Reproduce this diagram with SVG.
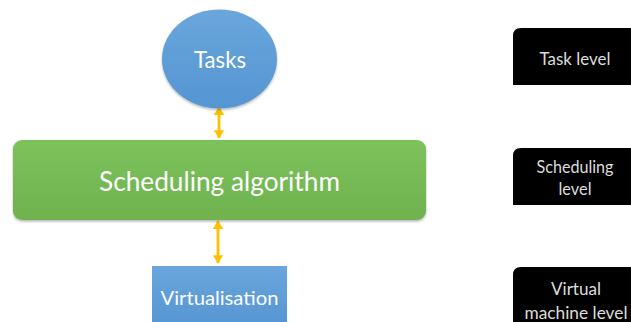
<svg xmlns="http://www.w3.org/2000/svg" width="631" height="322" viewBox="0 0 631 322">
  <style>
    .lbl { font-family: Lato, "Open Sans", "Liberation Sans", sans-serif; fill: #ffffff; text-anchor: middle; }
    .lvl { font-family: Lato, "Open Sans", "Liberation Sans", sans-serif; fill: #dcdcdc; text-anchor: middle; font-size: 16.5px; }
    .level-box { fill: #000000; }
    .link { stroke: #ffc000; stroke-width: 2.8; fill: none; marker-start: url(#head); marker-end: url(#head); }
  </style>
  <defs>
    <linearGradient id="blueFill" x1="0" y1="0" x2="0" y2="1">
      <stop offset="0" stop-color="#6aa6dc"/>
      <stop offset="1" stop-color="#5595d2"/>
    </linearGradient>
    <linearGradient id="greenFill" x1="0" y1="0" x2="0" y2="1">
      <stop offset="0" stop-color="#7cc25b"/>
      <stop offset="1" stop-color="#6fb24f"/>
    </linearGradient>
    <filter id="shade" x="-5%" y="-10%" width="110%" height="125%">
      <feDropShadow dx="0" dy="1.5" stdDeviation="1.2" flood-color="#000" flood-opacity="0.3"/>
    </filter>
    <marker id="head" viewBox="0 0 8 10" refX="7.5" refY="5" markerWidth="3" markerHeight="3.8" orient="auto-start-reverse" markerUnits="strokeWidth">
      <path d="M0,0 L8,5 L0,10 Z" fill="#ffc000"/>
    </marker>
  </defs>

  <rect width="631" height="322" fill="#ffffff"/>

  <!-- connectors -->
  <g id="connectors">
    <line class="link" x1="219" y1="107" x2="219" y2="138"/>
    <line class="link" x1="218" y1="221" x2="218" y2="263"/>
  </g>

  <!-- left column -->
  <g id="tasks">
    <ellipse cx="219.5" cy="59" rx="57.5" ry="49.5" fill="url(#blueFill)" filter="url(#shade)"/>
    <text class="lbl" x="220" y="68" font-size="23" textLength="52" lengthAdjust="spacingAndGlyphs">Tasks</text>
  </g>

  <g id="scheduling">
    <rect x="13" y="140" width="413" height="80" rx="9" fill="url(#greenFill)" filter="url(#shade)"/>
    <text class="lbl" x="219.5" y="191" font-size="26" textLength="241" lengthAdjust="spacingAndGlyphs">Scheduling algorithm</text>
  </g>

  <g id="virtualisation">
    <rect x="152" y="266" width="135" height="60" fill="url(#blueFill)"/>
    <text class="lbl" x="219.5" y="305" font-size="20" textLength="118" lengthAdjust="spacingAndGlyphs">Virtualisation</text>
  </g>

  <!-- level labels on the right -->
  <g id="task-level">
    <path class="level-box" d="M513,85 V36 Q513,28 521,28 H631 V85 Z"/>
    <text class="lvl" x="575" y="65" textLength="71" lengthAdjust="spacingAndGlyphs">Task level</text>
  </g>

  <g id="scheduling-level">
    <path class="level-box" d="M513,205 V156 Q513,148 521,148 H631 V205 Z"/>
    <text class="lvl" x="575" y="173" textLength="77" lengthAdjust="spacingAndGlyphs">Scheduling</text>
    <text class="lvl" x="575" y="195" textLength="33" lengthAdjust="spacingAndGlyphs">level</text>
  </g>

  <g id="vm-level">
    <path class="level-box" d="M513,326 V275 Q513,267 521,267 H631 V326 Z"/>
    <text class="lvl" x="576" y="295" textLength="50" lengthAdjust="spacingAndGlyphs">Virtual</text>
    <text class="lvl" x="576" y="319" textLength="103" lengthAdjust="spacingAndGlyphs">machine level</text>
  </g>
</svg>
